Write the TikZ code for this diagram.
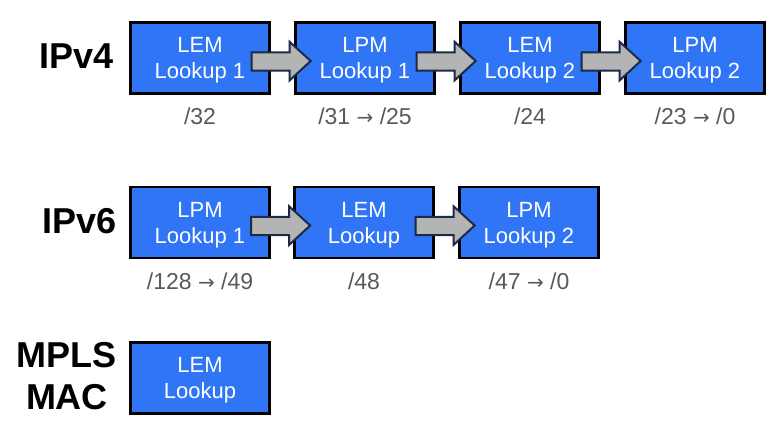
\documentclass[tikz,border=0pt]{standalone}
\usepackage{fontspec}
\setmainfont{Liberation Sans}
\newfontfamily\arrowfont{DejaVu Sans}
\usetikzlibrary{positioning,calc}
\definecolor{lookupblue}{RGB}{47,117,246}
\definecolor{flowgray}{RGB}{180,180,180}
\definecolor{flownavy}{RGB}{27,42,71}
\definecolor{prefixgray}{RGB}{89,89,89}
\newcommand{\upto}{ {\arrowfont\fontsize{20}{24}\selectfont →} }
\tikzset{
  lookup/.style={draw=black, line width=2.2pt, fill=lookupblue, text=white,
    minimum width=139pt, minimum height=71pt, inner sep=0pt, align=center,
    text depth=0pt, font=\fontsize{22}{26}\selectfont},
  proto/.style={inner sep=0pt, align=center, font=\fontsize{36}{42}\selectfont\bfseries},
  prefixlen/.style={inner sep=0pt, text=prefixgray, font=\fontsize{23}{26}\selectfont},
  flow/.style={draw=flownavy, line width=2pt, fill=flowgray, line join=miter}
}
\begin{document}
\begin{tikzpicture}[x=1pt,y=-1pt]
\useasboundingbox (0,0) rectangle (780,434);
% protocols
\node[proto, anchor=base east] (ipv4) at (114,68) {IPv4};
\node[proto, anchor=base east] (ipv6) at (117,233) {IPv6};
\node[proto] (mpls) at (67,376.5) {MPLS\\MAC};
% IPv4 lookups
\node[lookup] (v4a) at (200,58) {LEM\\Lookup 1};
\node[lookup] (v4b) at (365,58) {LPM\\Lookup 1};
\node[lookup] (v4c) at (530,58) {LEM\\Lookup 2};
\node[lookup] (v4d) at (695,58) {LPM\\Lookup 2};
% IPv6 lookups
\node[lookup] (v6a) at (200,222.5) {LPM\\Lookup 1};
\node[lookup] (v6b) at (364,222.5) {LEM\\Lookup};
\node[lookup] (v6c) at (529,222.5) {LPM\\Lookup 2};
% MPLS / MAC lookup
\node[lookup] (mla) at (200,378) {LEM\\Lookup};
% prefix lengths
\node[prefixlen, below=30pt of v4a.south, anchor=base] (p4a) {/32};
\node[prefixlen, below=30pt of v4b.south, anchor=base] (p4b) {/31\upto/25};
\node[prefixlen, below=30pt of v4c.south, anchor=base] (p4c) {/24};
\node[prefixlen, below=30pt of v4d.south, anchor=base] (p4d) {/23\upto/0};
\node[prefixlen, below=30pt of v6a.south, anchor=base] (p6a) {/128\upto/49};
\node[prefixlen, below=30pt of v6b.south, anchor=base] (p6b) {/48};
\node[prefixlen, below=30pt of v6c.south, anchor=base] (p6c) {/47\upto/0};
% block arrows
\foreach \a/\b in {v4a/v4b,v4b/v4c,v4c/v4d,v6a/v6b,v6b/v6c}
  \draw[flow, shift={($(\a.east)!.5!(\b.west)$)}] (-31,-5.7) -- (7,-5.7) -- (7,-16.3)
    -- (28.2,3) -- (7,22.5) -- (7,12.7) -- (-31,12.7) -- cycle;
\end{tikzpicture}
\end{document}
